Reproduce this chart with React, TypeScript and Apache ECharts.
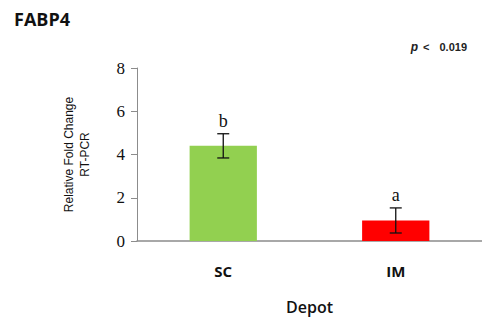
import React, { useEffect, useRef } from "react";
import * as echarts from "echarts";

const categories = ["SC", "IM"];
const values = [4.4, 0.95];
const errors = [0.56, 0.58];
const letters = ["b", "a"];
const colors = ["#92d050", "#ff0000"];
const yTicks = [0, 2, 4, 6, 8];

export default function App() {
  const ref = useRef<HTMLDivElement>(null);
  useEffect(() => {
    const chart = echarts.init(ref.current!, null, { renderer: "svg" });
    chart.setOption({
      animation: false,
      title: [
        {
          text: "FABP4",
          left: 9,
          top: 5,
          textStyle: { fontFamily: "Open Sans", fontWeight: "bold", fontSize: 18, color: "#111" },
        },
        {
          text: "{i|p} {n|<}  {b|0.019}",
          right: 10,
          top: 33,
          textStyle: {
            rich: {
              i: { fontStyle: "italic", fontFamily: "Liberation Sans", fontSize: 12, color: "#222" },
              n: { fontFamily: "Liberation Sans", fontSize: 11, color: "#222" },
              b: { fontWeight: "bold", fontFamily: "Liberation Sans", fontSize: 11, color: "#222" },
            },
          },
        },
      ],
      grid: { left: 137, right: 0, top: 68, bottom: 86 },
      xAxis: {
        type: "category",
        data: categories,
        name: "Depot",
        nameLocation: "middle",
        nameGap: 58,
        nameTextStyle: { fontFamily: "Open Sans", fontSize: 16, color: "#111", fontWeight: 600 },
        axisLine: { lineStyle: { color: "#8c8c8c", width: 1.5 } },
        axisTick: { show: false },
        axisLabel: {
          margin: 22,
          fontFamily: "Open Sans",
          fontWeight: "bold",
          fontSize: 15,
          color: "#111",
        },
      },
      yAxis: {
        type: "value",
        min: 0,
        max: 8,
        interval: 2,
        name: "Relative Fold Change\nRT-PCR",
        nameLocation: "middle",
        nameGap: 44,
        nameTextStyle: { fontFamily: "Liberation Sans", fontSize: 12, color: "#111", lineHeight: 16 },
        axisLine: { show: true, lineStyle: { color: "#8c8c8c", width: 1 } },
        axisTick: { show: true, inside: false, length: 6, lineStyle: { color: "#8c8c8c" } },
        splitLine: { show: false },
        axisLabel: {
          margin: 12,
          fontFamily: "Liberation Serif",
          fontSize: 17,
          color: "#111",
          formatter: (v: number) => (yTicks.includes(v) ? String(v) : ""),
        },
      },
      series: [
        {
          type: "bar",
          data: values.map((v, i) => ({ value: v, itemStyle: { color: colors[i] } })),
          barWidth: "39%",
        },
        {
          type: "custom",
          z: 5,
          data: values.map((v, i) => [i, v, errors[i]]),
          renderItem: (params: any, api: any) => {
            const x = api.value(0);
            const v = api.value(1);
            const e = api.value(2);
            const top = api.coord([x, v + e]);
            const bot = api.coord([x, v - e]);
            const hw = 6;
            const idx = params.dataIndex;
            const stroke = "#111";
            return {
              type: "group",
              children: [
                { type: "line", shape: { x1: top[0], y1: top[1], x2: bot[0], y2: bot[1] }, style: { stroke, lineWidth: 1.3 } },
                { type: "line", shape: { x1: top[0] - hw, y1: top[1], x2: top[0] + hw, y2: top[1] }, style: { stroke, lineWidth: 1.3 } },
                { type: "line", shape: { x1: bot[0] - hw, y1: bot[1], x2: bot[0] + hw, y2: bot[1] }, style: { stroke, lineWidth: 1.3 } },
                {
                  type: "text",
                  x: top[0],
                  y: top[1] - 4,
                  style: {
                    text: letters[idx],
                    align: "center",
                    verticalAlign: "bottom",
                    font: "18px 'Liberation Serif'",
                    fill: "#111",
                  },
                },
              ],
            };
          },
        },
      ],
    });
    return () => chart.dispose();
  }, []);
  return <div ref={ref} style={{ width: 482, height: 327, position: "absolute", left: 0, top: 0 }} />;
}
